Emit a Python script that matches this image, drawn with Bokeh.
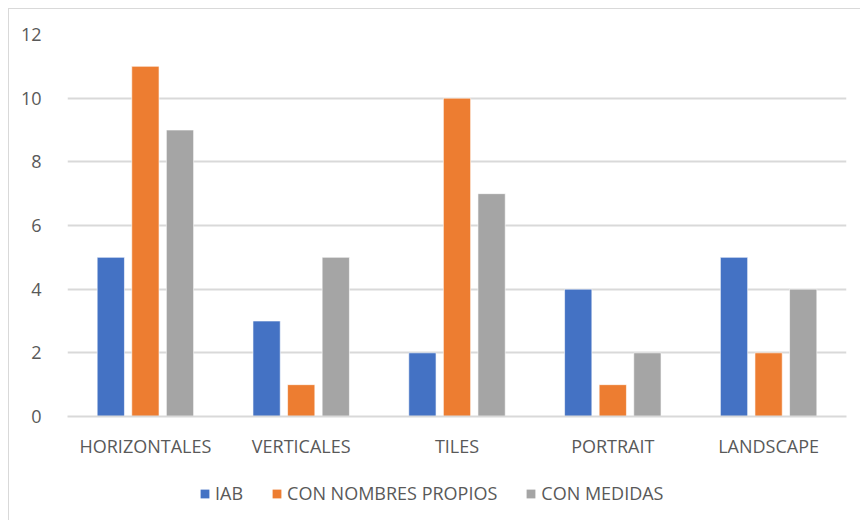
from bokeh.plotting import figure
from bokeh.layouts import column
from bokeh.models import Legend, LegendItem, ColumnDataSource, FixedTicker
from bokeh.transform import dodge
from bokeh.embed import file_html
from bokeh.resources import INLINE

# Data
categories = ["HORIZONTALES", "VERTICALES", "TILES", "PORTRAIT", "LANDSCAPE"]
iab = [5, 3, 2, 4, 5]
nombres_propios = [11, 1, 10, 1, 2]
medidas = [9, 5, 7, 2, 4]
series_names = ["IAB", "CON NOMBRES PROPIOS", "CON MEDIDAS"]
y_ticks = [0, 2, 4, 6, 8, 10, 12]

colors = ["#4472C4", "#ED7D31", "#A5A5A5"]
FONT = "Open Sans"
FONT_SIZE = "18px"
TEXT_COLOR = "#595959"
GRID_COLOR = "#D9D9D9"
columns = ["iab", "np", "med"]

source = ColumnDataSource(dict(cat=categories, iab=iab, np=nombres_propios, med=medidas))

# Main bar chart
p = figure(x_range=categories, y_range=(0, 12), width=851, height=451,
           output_backend="svg", toolbar_location=None,
           min_border_left=58, min_border_right=14, min_border_top=25,
           min_border_bottom=44)
p.background_fill_color = "white"
p.border_fill_color = "white"
p.outline_line_color = None

bar_w = 0.175
offsets = [-0.222, 0.0, 0.222]
for col, off, c in zip(columns, offsets, colors):
    p.vbar(x=dodge("cat", off, range=p.x_range), top=col, width=bar_w,
           source=source, fill_color=c, line_color="white", line_width=0.6)

p.yaxis.ticker = FixedTicker(ticks=y_ticks)
p.yaxis.axis_line_color = None
p.yaxis.major_tick_line_color = None
p.yaxis.minor_tick_line_color = None
p.yaxis.major_label_text_font = FONT
p.yaxis.major_label_text_font_size = FONT_SIZE
p.yaxis.major_label_text_color = TEXT_COLOR
p.yaxis.major_label_standoff = 20

p.xaxis.axis_line_color = GRID_COLOR
p.xaxis.axis_line_width = 2
p.xaxis.major_tick_line_color = None
p.xaxis.minor_tick_line_color = None
p.xaxis.major_label_text_font = FONT
p.xaxis.major_label_text_font_size = FONT_SIZE
p.xaxis.major_label_text_color = TEXT_COLOR
p.xaxis.major_label_standoff = 11

p.xgrid.grid_line_color = None
p.ygrid.grid_line_color = GRID_COLOR
p.ygrid.grid_line_width = 2

# Legend strip underneath the chart; its key bars have zero height
key = figure(width=851, height=60, output_backend="svg", toolbar_location=None,
             min_border_left=5, min_border_right=0, min_border_top=6,
             min_border_bottom=0, x_range=(0, 1), y_range=(0, 1))
key.axis.visible = False
key.grid.visible = False
key.outline_line_color = None
key.background_fill_color = "white"
key.border_fill_color = "white"

key_renderers = []
for c in colors:
    r = key.vbar(x=[0.5], top=[0], bottom=[0], width=0.1,
                 fill_color=c, line_color=None)
    key_renderers.append(r)

legend = Legend(items=[LegendItem(label=n, renderers=[r]) for n, r in zip(series_names, key_renderers)],
                orientation="horizontal", location=(132, 15),
                label_text_font=FONT, label_text_font_size=FONT_SIZE,
                label_text_color=TEXT_COLOR, glyph_width=11, glyph_height=11,
                spacing=28, label_standoff=5, border_line_color=None,
                background_fill_alpha=0, margin=0, padding=0)
key.add_layout(legend)

layout = column(p, key, spacing=0,
                styles={"margin-left": "8px", "margin-top": "8px",
                        "border-left": "1px solid #D9D9D9",
                        "border-top": "1px solid #D9D9D9"})

open("out.html", "w").write(file_html(layout, INLINE))
